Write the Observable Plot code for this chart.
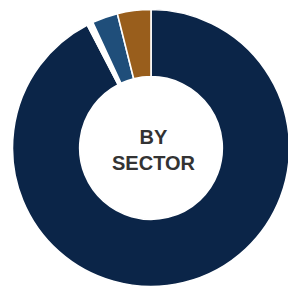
<!DOCTYPE html>
<html><head><meta charset="utf-8">
<script src="https://cdn.jsdelivr.net/npm/d3@7"></script>
<script src="https://cdn.jsdelivr.net/npm/@observablehq/plot@0.6"></script>
<style>html,body{margin:0;padding:0;background:#fff} svg{display:block}</style>
</head><body><div id="chart"></div>
<script>
// Data (clockwise from 12 o'clock)
const sectors = ["Sector A", "Unallocated", "Sector B", "Sector C"];
const shares = [92.3, 0.7, 3.0, 3.9];
const sectorColors = ["#0b2548", "#ffffff", "#1f4e7a", "#995e1c"];
const centerLabel = ["BY", "SECTOR"];

const data = sectors.map((s, i) => ({sector: s, share: shares[i]}));

const W = 288, H = 287;
const R = 138.5;          // outer radius in px
const CX = 151, CY = 148; // donut centre in px
const innerRatio = 0.515;

function donut(index, scales) {
  const cx = scales.x(0), cy = scales.y(0);
  const r = scales.x(1) - scales.x(0);
  const pie = d3.pie().sort(null).value(d => d.share);
  const arc = d3.arc().innerRadius(r * innerRatio).outerRadius(r);
  const g = d3.create("svg:g").attr("transform", `translate(${cx},${cy})`);
  g.selectAll("path").data(pie(data)).join("path")
    .attr("d", arc)
    .attr("fill", d => scales.color(d.data.sector))
    .attr("stroke", "#fff")
    .attr("stroke-width", 1.6)
    .attr("stroke-linejoin", "round");
  return g.node();
}

const chart = Plot.plot({
  width: W, height: H,
  margin: 0,
  x: {domain: [-CX / R, (W - CX) / R], axis: null},
  y: {domain: [-(H - CY) / R, CY / R], axis: null},
  color: {domain: sectors, range: sectorColors, legend: false},
  marks: [
    Plot.dot(data, {x: d => 0, y: d => 0, fill: "sector", r: 0}),
    donut,
    Plot.text([centerLabel.join("\n")], {
      x: d => 0, y: d => 0, text: d => d,
      fontSize: 20, fontWeight: 700, lineHeight: 1.3,
      fontFamily: "'Liberation Sans', Arial, Helvetica, sans-serif",
      fill: "#333", dx: 2
    })
  ]
});
document.getElementById("chart").appendChild(chart);
</script>
</body></html>
